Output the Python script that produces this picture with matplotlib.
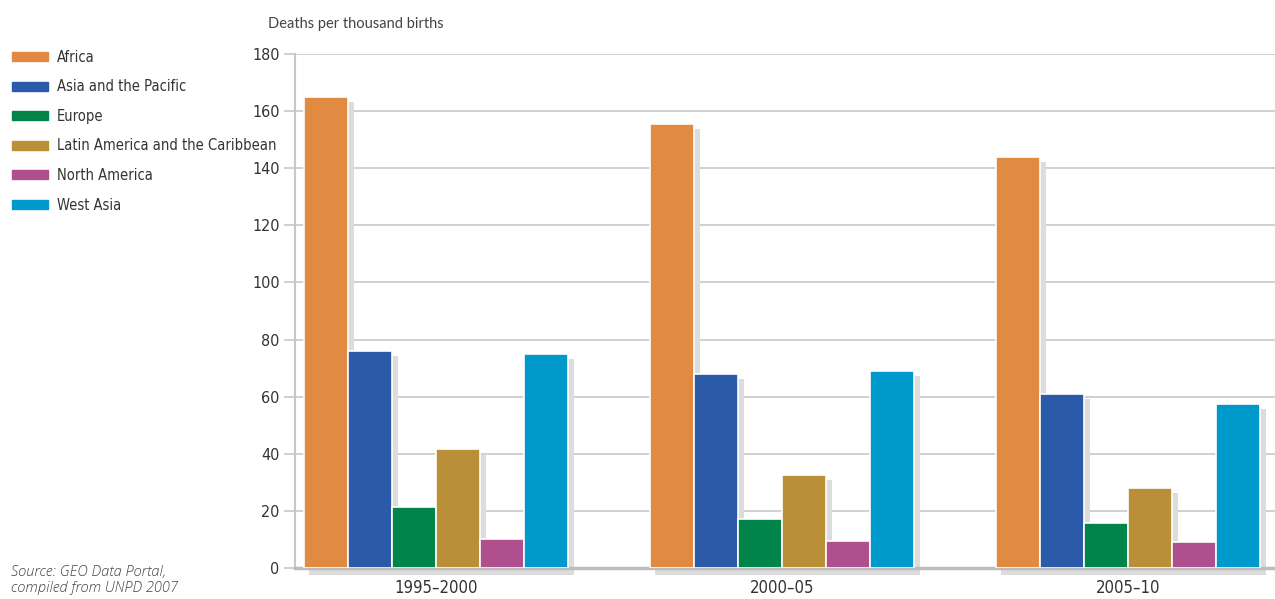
import matplotlib.pyplot as plt
import matplotlib.patches as mpatches
import numpy as np

# data
periods = ['1995\u20132000', '2000\u201305', '2005\u201310']
regions = ['Africa', 'Asia and the Pacific', 'Europe',
           'Latin America and the Caribbean', 'North America', 'West Asia']
colors = ['#e08a42', '#2b5ba8', '#00844a', '#b98f38', '#b04f8e', '#0099cc']

africa = [165, 155.5, 144]
asia_pacific = [76, 68, 61]
europe = [21.3, 17.3, 15.8]
latin_america = [41.5, 32.5, 28]
north_america = [10, 9.5, 9]
west_asia = [75, 69, 57.5]
series = [africa, asia_pacific, europe, latin_america, north_america, west_asia]

cond = dict(fontfamily='DejaVu Sans', fontstretch='condensed')
txt = '#333333'
grey = '#c8c8c8'
shadow = '#dcdcdd'

fig = plt.figure(figsize=(12.75, 5.99), dpi=100)
ax = fig.add_axes([295 / 1275, 31 / 599, 980 / 1275, 514 / 599])

x = np.arange(len(periods))
w = 0.127
dx = 0.018   # shadow offset
dy = 1.8

for i, (vals, c) in enumerate(zip(series, colors)):
    pos = x + (i - 2.5) * w
    # drop shadow
    ax.bar(pos + dx, np.array(vals) - dy, width=w, color=shadow, zorder=2,
           linewidth=0)
    ax.bar(pos, vals, width=w, color=c, edgecolor='white', linewidth=1.2,
           zorder=3)

# ground shadow under each group
for xc in x:
    r = mpatches.Rectangle((xc - 3 * w + 0.013, -2.4), 6 * w + 0.005, 2.0,
                           color=shadow, clip_on=False, zorder=1, linewidth=0)
    ax.add_patch(r)

ax.set_xlim(-0.408, 2.425)
ax.set_ylim(0, 180)
ax.set_yticks(np.arange(0, 181, 20))
ax.yaxis.grid(True, color=grey, linewidth=1.2)
ax.set_axisbelow(True)
ax.set_xticks(x)
ax.set_xticklabels(periods, fontsize=12, color=txt, **cond)
ax.tick_params(axis='x', length=0, pad=8)
ax.tick_params(axis='y', length=8, width=1.2, color=grey, pad=3,
               labelsize=11.5, labelcolor=txt)
for lab in ax.get_yticklabels():
    lab.set_fontfamily('DejaVu Sans')
    lab.set_fontstretch('condensed')

for s in ['top', 'right']:
    ax.spines[s].set_visible(False)
ax.spines['left'].set_color(grey)
ax.spines['left'].set_linewidth(1.5)
ax.spines['bottom'].set_color('#bdbdbd')
ax.spines['bottom'].set_linewidth(2.5)

fig.text(268 / 1275, 1 - 24 / 599, 'Deaths per thousand births',
         fontsize=10.5, color='#444444', va='center', fontfamily='Lato')

# legend
for i, (name, c) in enumerate(zip(regions, colors)):
    yc = 1 - (57 + i * 29.6) / 599
    fig.patches.append(mpatches.Rectangle((12 / 1275, yc - 4 / 599), 36 / 1275,
                                          9 / 599, color=c,
                                          transform=fig.transFigure))
    fig.text(57 / 1275, yc, name, fontsize=10.5, color=txt, va='center', **cond)

fig.text(11 / 1275, 1 - 580 / 599, 'Source: GEO Data Portal,\ncompiled from UNPD 2007',
         fontsize=10.5, color='#444444', style='italic', va='center',
         fontfamily='Open Sans', fontweight='light', linespacing=1.15)

fig.savefig('out.png', dpi=100)
